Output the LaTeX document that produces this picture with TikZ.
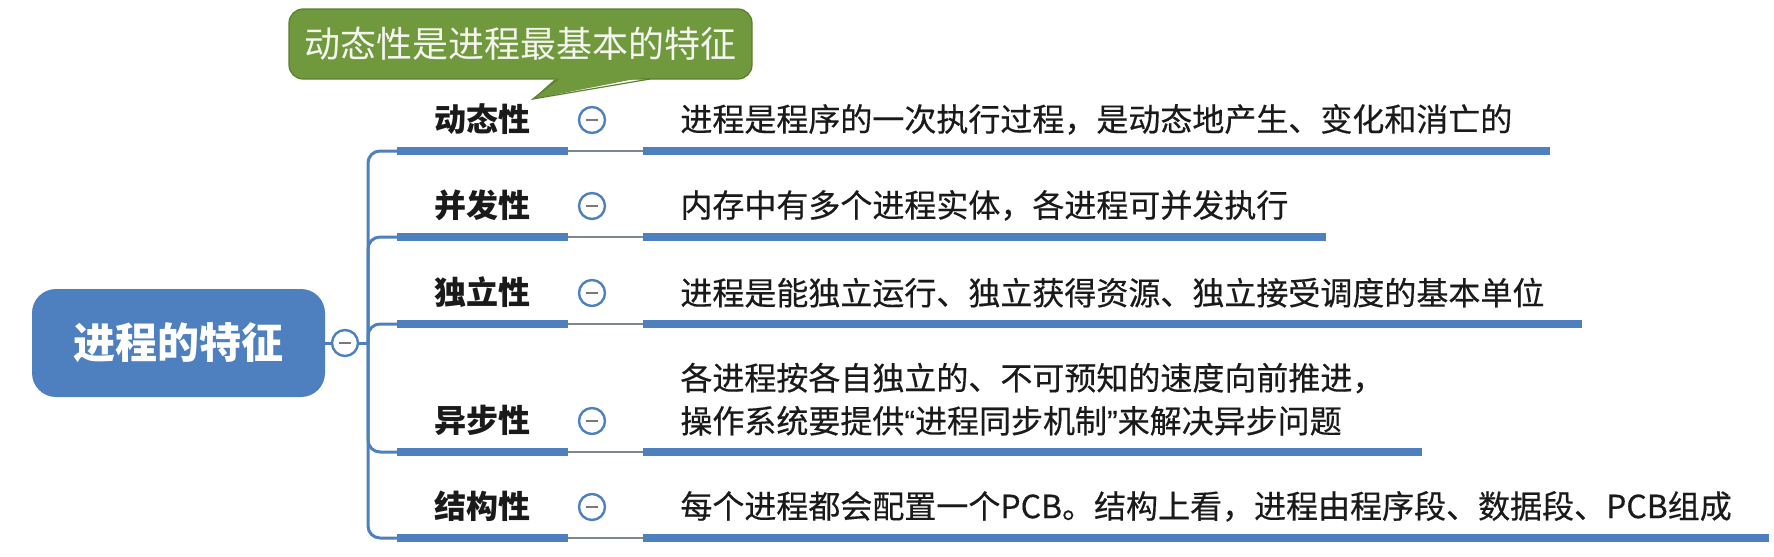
\documentclass[tikz,border=0pt]{standalone}
\usepackage{fontspec}
\setmainfont{Noto Sans CJK SC}
\newfontfamily\descfont{Noto Sans CJK SC}[FakeBold=0.4]
\newfontfamily\quotefont{Liberation Sans}[FakeBold=0.4]
\usepackage{tikz}

\definecolor{mapblue}{RGB}{78,128,192}
\definecolor{linkgray}{RGB}{125,135,145}
\definecolor{minusgray}{RGB}{120,120,120}
\definecolor{notegreen}{RGB}{112,152,60}
\definecolor{noteedge}{RGB}{92,126,48}
\definecolor{inktext}{RGB}{26,26,26}

\begin{document}
\begin{tikzpicture}[x=0.5pt,y=-0.5pt,
  topic/.style={anchor=south west,inner xsep=18.5pt,inner ysep=8pt,text=inktext,
    font=\bfseries\fontsize{16}{21.5}\selectfont},
  detail/.style={topic,align=left,font=\descfont\fontsize{16}{21.5}\selectfont},
  bar/.style={mapblue,line width=4pt},
  spine/.style={mapblue,line width=1.5pt},
  link/.style={linkgray,line width=1.2pt},
  btn/.style={circle,draw=mapblue,fill=white,line width=1.2pt,minimum size=13pt,inner sep=0pt,
    path picture={\draw[minusgray,line width=0.8pt] ([xshift=-3pt]path picture bounding box.center) -- ([xshift=3pt]path picture bounding box.center);}}]
  \useasboundingbox (0,0) rectangle (1774,557);
  % Root topic
  \node[fill=mapblue,rounded corners=12pt,minimum width=146.5pt,minimum height=54pt,
    text=white,font=\bfseries\fontsize{21}{25}\selectfont] (root) at (178.5,343) {进程的特征};
  \node[btn] (rb) at (345,343) {};
  \coordinate (hub) at (368,343);
  \draw[spine] (root.east) -- (rb.west);
  \draw[spine] (rb.east) -- (hub);
  % Branches: bar y / label / description
  \foreach \i/\y/\name/\desc in {
    1/151/动态性/{进程是程序的一次执行过程，是动态地产生、变化和消亡的},
    2/237/并发性/{内存中有多个进程实体，各进程可并发执行},
    3/324/独立性/{进程是能独立运行、独立获得资源、独立接受调度的基本单位},
    4/452/异步性/{各进程按各自独立的、不可预知的速度向前推进，\\操作系统要提供{\quotefont “}进程同步机制{\quotefont ”}来解决异步问题},
    5/538/结构性/{每个进程都会配置一个PCB。结构上看，进程由程序段、数据段、PCB组成}}
  {
    \node[topic] (l\i) at (397,\y) {\name};
    \node[detail] (d\i) at (643,\y) {\desc};
    \draw[spine,rounded corners=6pt] (hub) |- (l\i.south west);
    \draw[link] (l\i.south east) -- (d\i.south west);
    \draw[bar] (l\i.south west) -- (l\i.south east);
    \draw[bar] (d\i.south west) -- (d\i.south east);
    \node[btn] (b\i) at (592,\y-31) {};
  }
  % Note on the first branch
  \node[fill=notegreen,draw=noteedge,line width=0.6pt,rounded corners=7pt,minimum width=231.5pt,
    minimum height=35pt,text={rgb,255:red,245;green,245;blue,240},
    font=\fontsize{18}{22}\selectfont] (note) at (520.5,44) {动态性是进程最基本的特征};
  \coordinate (tip) at (533,99);
  \fill[notegreen] (558,76) -- (tip) -- (650,76) -- cycle;
  \draw[noteedge,line width=0.6pt] (558,79) -- (tip) -- (650,79);
\end{tikzpicture}
\end{document}
